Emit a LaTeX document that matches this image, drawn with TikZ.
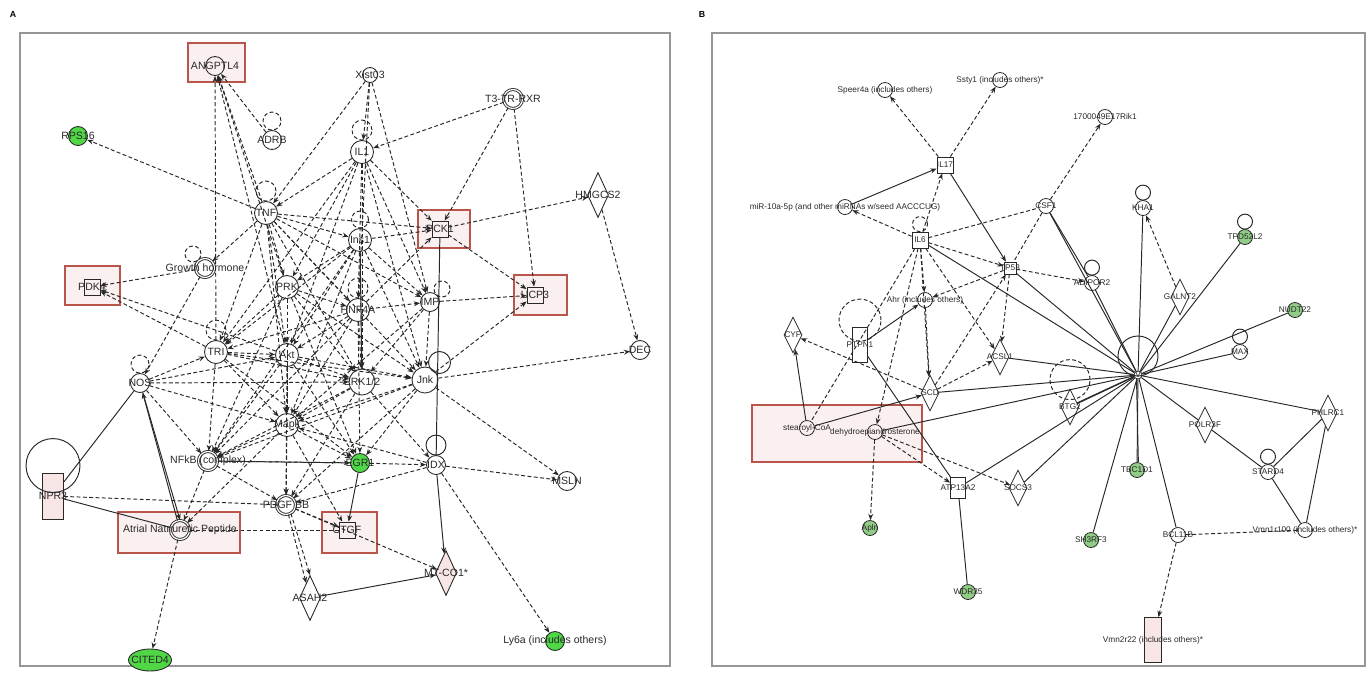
\documentclass[tikz,border=0pt]{standalone}
\usepackage{fontspec}
\setmainfont{Liberation Sans}
\usetikzlibrary{arrows.meta,shapes.geometric}
\definecolor{frm}{RGB}{150,150,150}
\definecolor{redb}{RGB}{185,85,75}
\definecolor{pinkf}{RGB}{248,230,230}
\definecolor{gA}{RGB}{80,215,70}
\definecolor{gB}{RGB}{145,205,135}
\definecolor{ln}{RGB}{40,40,40}
\newcommand\fA{\fontsize{6}{7}\selectfont}
\newcommand\fB{\fontsize{4.7}{5.5}\selectfont}
\begin{document}
\begin{tikzpicture}[x=0.02cm,y=-0.02cm,
  every label/.style={inner sep=0pt,text=ln},
  gc/.style={circle,draw=ln,line width=0.5pt,minimum size=0.38cm,inner sep=0pt},
  gcs/.style={circle,draw=ln,line width=0.45pt,minimum size=0.3cm,inner sep=0pt},
  ring/.style={gc,double=white,double distance=0.7pt},
  hubA/.style={gc,minimum size=0.46cm},
  grA/.style={gc,fill=gA},
  grB/.style={gcs,fill=gB},
  dia/.style={diamond,draw=ln,line width=0.5pt,aspect=0.45,minimum width=0.42cm,minimum height=0.9cm,inner sep=0pt},
  diaB/.style={diamond,draw=ln,line width=0.45pt,aspect=0.5,minimum width=0.36cm,minimum height=0.72cm,inner sep=0pt},
  sq/.style={rectangle,draw=ln,line width=0.45pt,minimum width=0.32cm,minimum height=0.32cm,inner sep=0pt},
  redbox/.style={rectangle,draw=redb,line width=0.8pt,fill=pinkf!60,inner sep=0pt},
  da/.style={ln,line width=0.55pt,dash pattern=on 2.2pt off 1.4pt,-{Stealth[length=3.6pt,width=2.8pt]}},
  dl/.style={ln,line width=0.55pt,dash pattern=on 2.2pt off 1.4pt},
  sa/.style={ln,line width=0.55pt,-{Stealth[length=3.6pt,width=2.8pt]}},
  sl/.style={ln,line width=0.55pt},
]
\useasboundingbox (0,0) rectangle (1370,677);
% panel letters and frames
\node[font=\fontsize{5}{6}\selectfont\bfseries] (lA) at (13,14) {A};
\node[font=\fontsize{5}{6}\selectfont\bfseries] (lB) at (702,14) {B};
\node[draw=frm,line width=1.2pt,minimum width=13cm,minimum height=12.66cm,inner sep=0pt] (frA) at (345,349.5) {};
\node[draw=frm,line width=1.2pt,minimum width=13.06cm,minimum height=12.66cm,inner sep=0pt] (frB) at (1038.5,349.5) {};

% ---------- red boxes A ----------
\node[redbox,minimum width=1.14cm,minimum height=0.78cm] (rbAng) at (216.5,62.5) {};
\node[redbox,minimum width=1.10cm,minimum height=0.78cm] (rbPdk) at (92.5,285.5) {};
\node[redbox,minimum width=1.04cm,minimum height=0.76cm] (rbPck) at (444,229) {};
\node[redbox,minimum width=1.06cm,minimum height=0.80cm] (rbUcp) at (540.5,295) {};
\node[redbox,minimum width=2.44cm,minimum height=0.82cm] (rbAnp) at (179,532.5) {};
\node[redbox,minimum width=1.10cm,minimum height=0.82cm] (rbCtgf) at (349.5,532.5) {};

% ---------- nodes A ----------
\begin{scope}[font=\fA]
\node[gc,label=center:{ANGPTL4}] (ang) at (215,66) {};
\node[grA,label=center:{RPS16}] (rps) at (78,136) {};
\node[gc,label=center:{ADRB}] (adrb) at (272,140) {};
\node[gc,minimum size=0.3cm,label=center:{Xist03}] (xist) at (370,75) {};
\node[ring,label=center:{T3-TR-RXR}] (t3) at (513,99) {};
\node[dia,label=center:{HMGCS2}] (hmg) at (598,195) {};
\node[hubA,label=center:{IL1}] (n1) at (362,152) {};
\node[hubA,label=center:{TNF}] (n2) at (266,213) {};
\node[hubA,label=center:{Ins1}] (n3) at (360,240) {};
\node[sq,label=center:{PCK1}] (pck) at (440,229) {};
\node[ring,label=center:{Growth hormone}] (gh) at (205,268) {};
\node[sq,label=center:{PDK4}] (pdk) at (92,287) {};
\node[hubA,label=center:{PRK}] (n4) at (287,287) {};
\node[hubA,label=center:{HNF4A}] (n5) at (358,310) {};
\node[gc,label=center:{IMP}] (imp) at (430,302) {};
\node[sq,label=center:{UCP3}] (ucp) at (535,295) {};
\node[hubA,label=center:{TRI}] (n6) at (216,352) {};
\node[hubA,label=center:{Akt}] (n7) at (287,355) {};
\node[gc,label=center:{NOS}] (nos) at (140,383) {};
\node[gc,label=center:{DEC}] (dec) at (640,350) {};
\node[hubA,minimum size=0.52cm,label=center:{ERK1/2}] (n8) at (362,382) {};
\node[hubA,minimum size=0.52cm,label=center:{Jnk}] (n9) at (425,380) {};
\node[hubA,label=center:{Mapk}] (n10) at (287,425) {};
\node[ring,label=center:{NFkB (complex)}] (nfkb) at (208,461) {};
\node[grA,label=center:{EGR1}] (egr) at (360,463) {};
\node[gc,label=center:{IDX}] (idx) at (436,465) {};
\node[rectangle,draw=ln,line width=0.5pt,fill=pinkf,minimum width=0.42cm,minimum height=0.92cm,inner sep=0pt,label=center:{NPR3}] (npr) at (53,496) {};
\node[ring,label=center:{Atrial Natriuretic Peptide}] (anp) at (180,530) {};
\node[ring,label=center:{PDGF BB}] (pdgf) at (286,505) {};
\node[sq,label=center:{CTGF}] (ctgf) at (347,530) {};
\node[gc,label=center:{MSLN}] (msln) at (567,481) {};
\node[dia,fill=pinkf,label=center:{MT-CO1*}] (mtco) at (446,573) {};
\node[dia,label=center:{ASAH2}] (asah) at (310,598) {};
\node[ellipse,draw=ln,line width=0.5pt,fill=gA,minimum width=0.86cm,minimum height=0.44cm,inner sep=0pt,label=center:{CITED4}] (cited) at (150,660) {};
\node[grA,label=center:{Ly6a (includes others)}] (ly6) at (555,641) {};
\end{scope}

% loops A (self-connectors drawn as circles)
\draw[dl] ([yshift=0.18cm]adrb.north) circle[radius=0.18cm];
\draw[dl] ([yshift=0.2cm]n1.north) circle[radius=0.2cm];
\draw[dl] ([yshift=0.2cm]n2.north) circle[radius=0.2cm];
\draw[dl] ([yshift=0.17cm]n3.north) circle[radius=0.17cm];
\draw[dl] ([xshift=-0.1cm,yshift=0.14cm]gh.north west) circle[radius=0.16cm];
\draw[dl] ([yshift=0.2cm]n5.north) circle[radius=0.2cm];
\draw[dl] ([xshift=0.1cm,yshift=0.12cm]imp.north east) circle[radius=0.16cm];
\draw[dl] ([yshift=0.2cm]n6.north) circle[radius=0.2cm];
\draw[dl] ([yshift=0.18cm]nos.north) circle[radius=0.18cm];
\draw[sl] ([xshift=0.1cm,yshift=0.16cm]n9.north east) circle[radius=0.22cm];
\draw[sl] ([yshift=0.2cm]idx.north) circle[radius=0.2cm];
\draw[sl] ([yshift=0.14cm]npr.north) circle[radius=0.54cm];

% edges A
\foreach \a/\b in {adrb/ang,n2/ang,n6/ang,n4/ang,n7/ang,n2/rps,
  xist/n1,xist/n2,xist/imp,xist/n5,t3/n1,t3/pck,t3/ucp,
  n1/n2,n1/n4,n1/n5,n1/n6,n1/n7,n1/pck,n1/n8,pck/hmg,hmg/dec,
  n2/pck,n3/pck,n5/pck,gh/pdk,n6/pdk,n7/pdk,n2/gh,imp/ucp,n9/ucp,pck/ucp,
  n9/dec,n9/msln,idx/msln,idx/ly6,pdgf/mtco,pdgf/asah,anp/cited,
  nfkb/anp,n10/anp,gh/nos,nos/n6,nos/n7,nos/n8,nos/n10,nos/nfkb,
  n2/n3,n2/n4,n2/n5,n2/n6,n2/n7,n2/n8,n2/n9,n2/n10,n2/imp,
  n3/n4,n3/n6,n3/n7,n3/n8,n3/n9,n3/n10,n3/nfkb,n3/imp,
  n4/n5,n4/n6,n4/n7,n4/n8,n4/n9,n4/n10,n4/nfkb,n4/egr,
  n5/n6,n5/n7,n5/n8,n5/n10,n5/nfkb,n5/egr,n5/imp,
  n6/n7,n6/n8,n6/n9,n6/n10,n6/nfkb,n6/egr,
  n7/n8,n7/n9,n7/n10,n7/nfkb,n7/egr,n7/pdgf,
  n8/n10,n8/nfkb,n8/idx,n8/pdgf,n9/n10,n9/nfkb,n9/egr,n9/pdgf,
  n10/nfkb,n10/egr,n10/pdgf,n10/ctgf,nfkb/pdgf,nfkb/egr,idx/pdgf,
  imp/n8,imp/n9,imp/n10,n1/n9,n1/imp,egr/idx,idx/n10,pdgf/ctgf}
  \draw[da] (\a) -- (\b);
\draw[da] (pdgf.-60) -- (asah.north);
\draw[sa] (idx) -- (mtco);
\draw[sa] (asah) -- (mtco);
\draw[sa] (anp) -- (nos);
\draw[sa] (nos) -- (anp.north);
\draw[sl] (npr) -- (nos);
\draw[sl] (npr) -- (anp);
\draw[dl] (npr) -- (pdgf);
\draw[dl] (anp) -- (ctgf);
\draw[sa] (egr) -- (ctgf);
\draw[sl] (pck) -- (idx);
\draw[sl] (n3) -- (n8);
\draw[sl] (nfkb) -- (egr);

% ---------- panel B ----------
\node[redbox,minimum width=3.40cm,minimum height=1.14cm] (rbSt) at (837,433.5) {};
\begin{scope}[font=\fB]
\node[gcs,label=center:{Speer4a (includes others)}] (spe) at (885,90) {};
\node[gcs,label=center:{Ssty1 (includes others)*}] (ssty) at (1000,80) {};
\node[gcs,label=center:{1700049E17Rik1}] (rik) at (1105,117) {};
\node[sq,label=center:{IL17}] (il17) at (945,165) {};
\node[gcs,label=center:{miR-10a-5p (and other miRNAs w/seed AACCCUG)}] (mir) at (845,207) {};
\node[gcs,label=center:{CSF1}] (csf) at (1046,206) {};
\node[gcs,label=center:{KHA1}] (kha) at (1143,208) {};
\node[grB,label=center:{TPD52L2}] (tpd) at (1245,237) {};
\node[sq,label=center:{IL6}] (il6) at (920,240) {};
\node[sq,minimum size=0.24cm,label=center:{TP53}] (tp) at (1010,268) {};
\node[gcs,label=center:{ADIPOR2}] (adip) at (1092,283) {};
\node[diaB,label=center:{GALNT2}] (galnt) at (1180,297) {};
\node[grB,label=center:{NUDT22}] (nudt) at (1295,310) {};
\node[gcs,label=center:{Ahr (includes others)}] (ahr) at (925,300) {};
\node[diaB,label=center:{CYP}] (cyp) at (793,335) {};
\node[rectangle,draw=ln,line width=0.45pt,minimum width=0.3cm,minimum height=0.7cm,inner sep=0pt,label=center:{PTPN1}] (ptp) at (860,345) {};
\node[diaB,label=center:{ACSL1}] (alas) at (1000,357) {};
\node[gcs,label=center:{MAX}] (maxn) at (1240,352) {};
\node[circle,draw=ln,line width=0.45pt,minimum size=0.16cm,inner sep=0pt,label=center:{V}] (hub) at (1138,375) {};
\node[diaB,label=center:{SCD}] (scd) at (930,393) {};
\node[diaB,label=center:{BTG2}] (btg) at (1070,407) {};
\node[diaB,label=center:{POLR3F}] (polr) at (1205,425) {};
\node[diaB,label=center:{PHLRC1}] (phl) at (1328,413) {};
\node[gcs,label=center:{STARD4}] (star) at (1268,472) {};
\node[gcs,label=center:{stearoyl-CoA}] (stco) at (807,428) {};
\node[gcs,label=center:{dehydroepiandrosterone}] (dhea) at (875,432) {};
\node[rectangle,draw=ln,line width=0.45pt,minimum width=0.3cm,minimum height=0.42cm,inner sep=0pt,label=center:{ATP13A2}] (atp) at (958,488) {};
\node[diaB,label=center:{SOCS3}] (socs) at (1018,488) {};
\node[grB,label=center:{Apln}] (apln) at (870,528) {};
\node[grB,label=center:{WDR35}] (wdr) at (968,592) {};
\node[grB,label=center:{TBC1D1}] (tbc) at (1137,470) {};
\node[grB,label=center:{SH3RF3}] (sh3) at (1091,540) {};
\node[gcs,label=center:{BCL11B}] (bcl) at (1178,535) {};
\node[gcs,label=center:{Vmn1r100 (includes others)*}] (vmn1) at (1305,530) {};
\node[rectangle,draw=ln,line width=0.45pt,fill=pinkf,minimum width=0.34cm,minimum height=0.9cm,inner sep=0pt,label=center:{Vmn2r22 (includes others)*}] (vmn2) at (1153,640) {};
\end{scope}

% loops B
\draw[dl] ([yshift=0.15cm]il6.north) circle[radius=0.15cm];
\draw[sl] ([yshift=0.15cm]kha.north) circle[radius=0.15cm];
\draw[sl] ([yshift=0.15cm]tpd.north) circle[radius=0.15cm];
\draw[sl] ([yshift=0.15cm]adip.north) circle[radius=0.15cm];
\draw[sl] ([yshift=0.15cm]maxn.north) circle[radius=0.15cm];
\draw[sl] ([yshift=0.15cm]star.north) circle[radius=0.15cm];
\draw[dl] ([yshift=0.14cm]ptp.north) circle[radius=0.42cm];
\draw[dl] ([yshift=0.18cm]btg.north) circle[radius=0.4cm];
\draw[sl] ([yshift=0.38cm]hub.center) circle[radius=0.4cm];

% edges B
\foreach \a/\b in {il17/spe,il17/ssty,il6/mir,il6/il17,csf/rik,il6/tp,tp/adip,
  tp/ahr,il6/ahr,ahr/scd,tp/alas,il6/alas,scd/alas,scd/cyp,dhea/apln,
  dhea/atp,dhea/socs,galnt/kha,bcl/vmn2,il6/scd,il6/dhea,scd/tp}
  \draw[da] (\a) -- (\b);
\foreach \a/\b in {il6/csf,csf/tp,bcl/vmn1,il6/stco}
  \draw[dl] (\a) -- (\b);
\foreach \a/\b in {mir/il17,il17/tp,stco/cyp,ptp/ahr,stco/scd}
  \draw[sa] (\a) -- (\b);
\foreach \a/\b in {csf/adip,atp/wdr,ptp/atp,hub/kha,hub/tpd,hub/nudt,hub/maxn,
  hub/galnt,hub/adip,hub/tp,hub/csf,hub/scd,hub/btg,hub/dhea,hub/polr,hub/phl,
  hub/tbc,hub/sh3,hub/bcl,hub/alas,hub/socs,hub/atp,polr/star,star/phl,
  phl/vmn1,star/vmn1,hub/il6}
  \draw[sl] (\a) -- (\b);
\draw[sl] (hub.200) -- (btg.30);
\draw[sl] (hub.250) -- (tbc.80);
\end{tikzpicture}
\end{document}
